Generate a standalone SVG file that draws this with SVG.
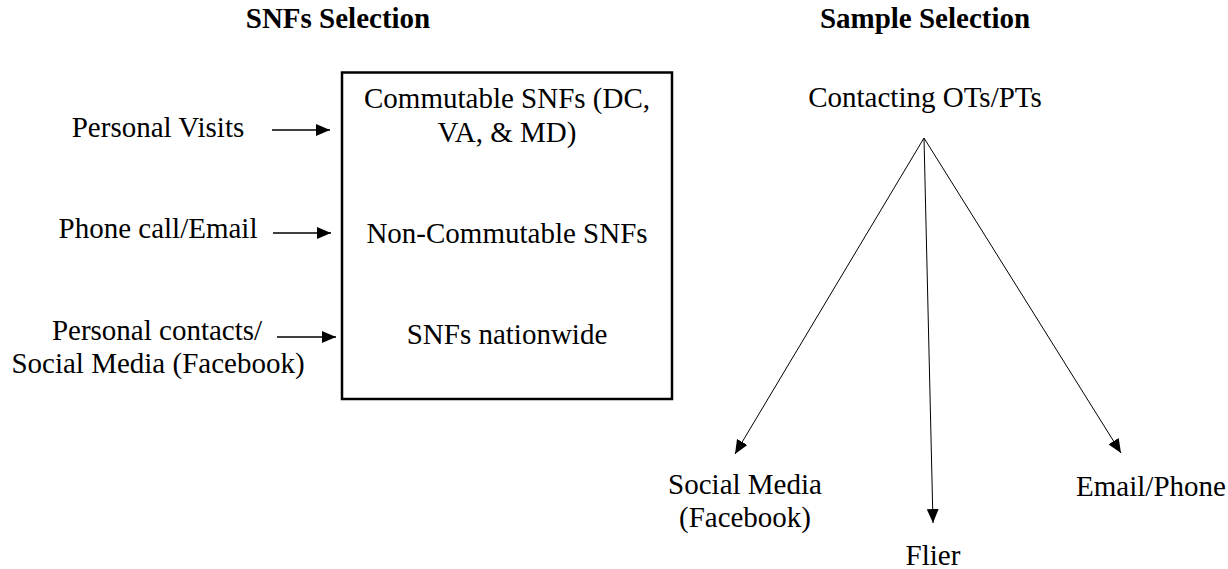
<svg xmlns="http://www.w3.org/2000/svg" width="1228" height="569" viewBox="0 0 1228 569" font-family="'Liberation Serif', 'Times New Roman', serif">
  <defs>
    <style>
      text { font-family: "Liberation Serif", "Times New Roman", serif; fill: #000; }
      .title { font-size: 29px; font-weight: bold; text-anchor: middle; }
      .lbl { font-size: 29px; text-anchor: middle; }
      .box { fill: #fff; stroke: #000; stroke-width: 2.5; }
      .conn { stroke: #000; fill: none; }
      .thick { stroke-width: 1.5; }
      .thin { stroke-width: 1; }
    </style>
    <marker id="tri" viewBox="0 0 14 12" refX="14" refY="6" markerWidth="14" markerHeight="12" markerUnits="userSpaceOnUse" orient="auto">
      <path d="M0,0 L14,6 L0,12 Z" fill="#000"/>
    </marker>
  </defs>
  <rect width="1228" height="569" fill="#fff"/>

  <!-- section headings -->
  <g id="heading-snfs"><text class="title" x="338" y="28">SNFs Selection</text></g>
  <g id="heading-sample"><text class="title" x="925" y="28">Sample Selection</text></g>

  <!-- recruitment channels on the left -->
  <g id="personal-visits"><text class="lbl" x="158" y="137">Personal Visits</text></g>
  <g id="phone-email"><text class="lbl" x="158" y="238">Phone call/Email</text></g>
  <g id="personal-contacts">
    <text class="lbl" x="157" y="340">Personal contacts/</text>
    <text class="lbl" x="158" y="373">Social Media (Facebook)</text>
  </g>

  <!-- facility categories -->
  <g id="snf-box">
    <rect class="box" x="342" y="72.5" width="330" height="326.5"/>
    <text class="lbl" x="507" y="108">Commutable SNFs (DC,</text>
    <text class="lbl" x="507" y="142">VA, &amp; MD)</text>
    <text class="lbl" x="507" y="243">Non-Commutable SNFs</text>
    <text class="lbl" x="507" y="344">SNFs nationwide</text>
  </g>

  <!-- sampling tree -->
  <g id="contacting"><text class="lbl" x="925" y="107">Contacting OTs/PTs</text></g>
  <g id="social-media">
    <text class="lbl" x="745" y="494">Social Media</text>
    <text class="lbl" x="745" y="527">(Facebook)</text>
  </g>
  <g id="flier"><text class="lbl" x="933" y="565">Flier</text></g>
  <g id="email-phone"><text class="lbl" x="1151" y="496">Email/Phone</text></g>

  <g id="connectors">
    <line class="conn thick" x1="272" y1="130" x2="330" y2="130" marker-end="url(#tri)"/>
    <line class="conn thick" x1="273" y1="233" x2="331" y2="233" marker-end="url(#tri)"/>
    <line class="conn thick" x1="277" y1="337" x2="336" y2="337" marker-end="url(#tri)"/>
    <line class="conn thin" x1="924" y1="138" x2="735" y2="454" marker-end="url(#tri)"/>
    <line class="conn thin" x1="924" y1="138" x2="933" y2="523" marker-end="url(#tri)"/>
    <line class="conn thin" x1="924" y1="138" x2="1121" y2="453" marker-end="url(#tri)"/>
  </g>
</svg>
